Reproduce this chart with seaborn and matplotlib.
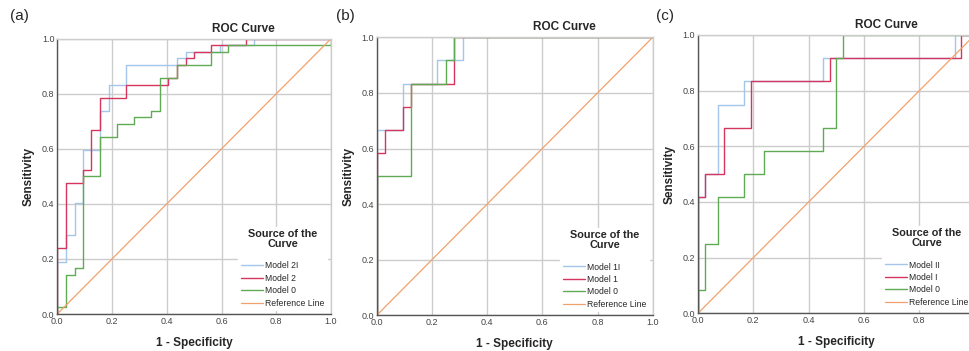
import matplotlib
matplotlib.use("Agg")
import matplotlib.pyplot as plt
import seaborn as sns
import pandas as pd

# panel (a)
a_m2i_x = [0, 0, 0.031, 0.063, 0.094, 0.156, 0.188, 0.25, 0.438, 0.469, 0.594, 0.719, 1.0]
a_m2i_y = [0, 0.19, 0.286, 0.405, 0.595, 0.738, 0.833, 0.905, 0.929, 0.952, 0.976, 1.0, 1.0]
a_m2_x = [0, 0, 0.031, 0.094, 0.125, 0.156, 0.25, 0.406, 0.438, 0.469, 0.5, 0.563, 0.688, 1.0]
a_m2_y = [0, 0.238, 0.476, 0.524, 0.667, 0.786, 0.833, 0.857, 0.905, 0.929, 0.952, 0.976, 1.0, 1.0]
a_m0_x = [0, 0, 0.031, 0.063, 0.094, 0.156, 0.219, 0.281, 0.344, 0.375, 0.438, 0.563, 0.625, 1.0, 1.0]
a_m0_y = [0, 0.024, 0.143, 0.167, 0.5, 0.643, 0.69, 0.714, 0.738, 0.857, 0.905, 0.952, 0.976, 0.976, 1.0]

# panel (b)
b_m1i_x = [0, 0, 0.094, 0.219, 0.313, 1.0]
b_m1i_y = [0, 0.667, 0.833, 0.917, 1.0, 1.0]
b_m1_x = [0, 0, 0.031, 0.094, 0.125, 0.281, 1.0]
b_m1_y = [0, 0.583, 0.667, 0.75, 0.833, 1.0, 1.0]
b_m0_x = [0, 0, 0.125, 0.25, 0.281, 1.0]
b_m0_y = [0, 0.5, 0.833, 0.917, 1.0, 1.0]

# panel (c)
c_mii_x = [0, 0, 0.024, 0.071, 0.167, 0.452, 0.929, 1.0]
c_mii_y = [0, 0.417, 0.5, 0.75, 0.833, 0.917, 1.0, 1.0]
c_mi_x = [0, 0, 0.024, 0.095, 0.19, 0.476, 0.952, 1.0]
c_mi_y = [0, 0.417, 0.5, 0.667, 0.833, 0.917, 1.0, 1.0]
c_m0_x = [0, 0, 0.024, 0.071, 0.167, 0.238, 0.452, 0.5, 0.524, 1.0]
c_m0_y = [0, 0.083, 0.25, 0.417, 0.5, 0.583, 0.667, 0.917, 1.0, 1.0]

ref_x = [0, 1]
ref_y = [0, 1]

panels = [
    ("(a)", [("Model 2I", a_m2i_x, a_m2i_y), ("Model 2", a_m2_x, a_m2_y), ("Model 0", a_m0_x, a_m0_y)]),
    ("(b)", [("Model 1I", b_m1i_x, b_m1i_y), ("Model 1", b_m1_x, b_m1_y), ("Model 0", b_m0_x, b_m0_y)]),
    ("(c)", [("Model II", c_mii_x, c_mii_y), ("Model I", c_mi_x, c_mi_y), ("Model 0", c_m0_x, c_m0_y)]),
]
colors = ["#a3c6ea", "#d4365e", "#5fab53"]
ref_color = "#f2a16c"

sns.set_style("whitegrid")
plt.rcParams['font.family'] = ['Liberation Sans', 'DejaVu Sans']

fig = plt.figure(figsize=(9.69, 3.51), dpi=100)
positions = [
    [0.0591, 0.1054, 0.2825, 0.7843],
    [0.3888, 0.1017, 0.2848, 0.7920],
    [0.7203, 0.1074, 0.2856, 0.7930],
]
label_x = [0.010, 0.347, 0.677]

for (tag, series), pos, lx in zip(panels, positions, label_x):
    ax = fig.add_axes(pos)
    for (name, xs, ys), col in zip(series, colors):
        df = pd.DataFrame({"fpr": xs, "tpr": ys})
        sns.lineplot(data=df, x="fpr", y="tpr", ax=ax, color=col, lw=1.0,
                     estimator=None, sort=False, drawstyle="steps-post", label=name)
    sns.lineplot(x=ref_x, y=ref_y, ax=ax, color=ref_color, lw=0.9,
                 estimator=None, sort=False, label="Reference Line")
    ax.set_xlim(0, 1)
    ax.set_ylim(0, 1)
    ticks = [0.0, 0.2, 0.4, 0.6, 0.8, 1.0]
    ax.set_xticks(ticks)
    ax.set_yticks(ticks)
    ax.set_xticklabels([f"{t:.1f}" for t in ticks])
    ax.set_yticklabels([f"{t:.1f}" for t in ticks])
    ax.tick_params(length=0, labelsize=6.5, labelcolor="#444444", pad=2)
    ax.grid(True, color="#cccccc", lw=1.0)
    for s in ["top", "right"]:
        ax.spines[s].set_color("#cccccc")
        ax.spines[s].set_linewidth(1.0)
    for s in ["left", "bottom"]:
        ax.spines[s].set_color("#555555")
        ax.spines[s].set_linewidth(1.0)
    ax.set_xlabel("1 - Specificity", fontsize=8.5, fontweight="bold", labelpad=8)
    ax.set_ylabel("Sensitivity", fontsize=8.5, fontweight="bold", labelpad=5)
    ax.text(0.68, 1.015, "ROC Curve", transform=ax.transAxes, ha="center", va="bottom",
            fontsize=8.5, fontweight="bold")
    leg = ax.legend(loc="lower right", fontsize=6.2, title="Source of the\nCurve",
                    title_fontproperties={"weight": "bold", "size": 7.8},
                    frameon=True, facecolor="white", edgecolor="white", framealpha=1.0,
                    handlelength=2.6, handletextpad=0.2, labelspacing=0.4,
                    borderaxespad=0.45, borderpad=0.3)
    leg.get_title().set_multialignment("center")
    leg.get_title().set_linespacing(0.95)
    leg._legend_box.align = "center"
    leg._legend_box.sep = 9
    fig.text(lx, 0.955, tag, fontsize=11, ha="left", va="center")

fig.savefig("out.png", dpi=100)
